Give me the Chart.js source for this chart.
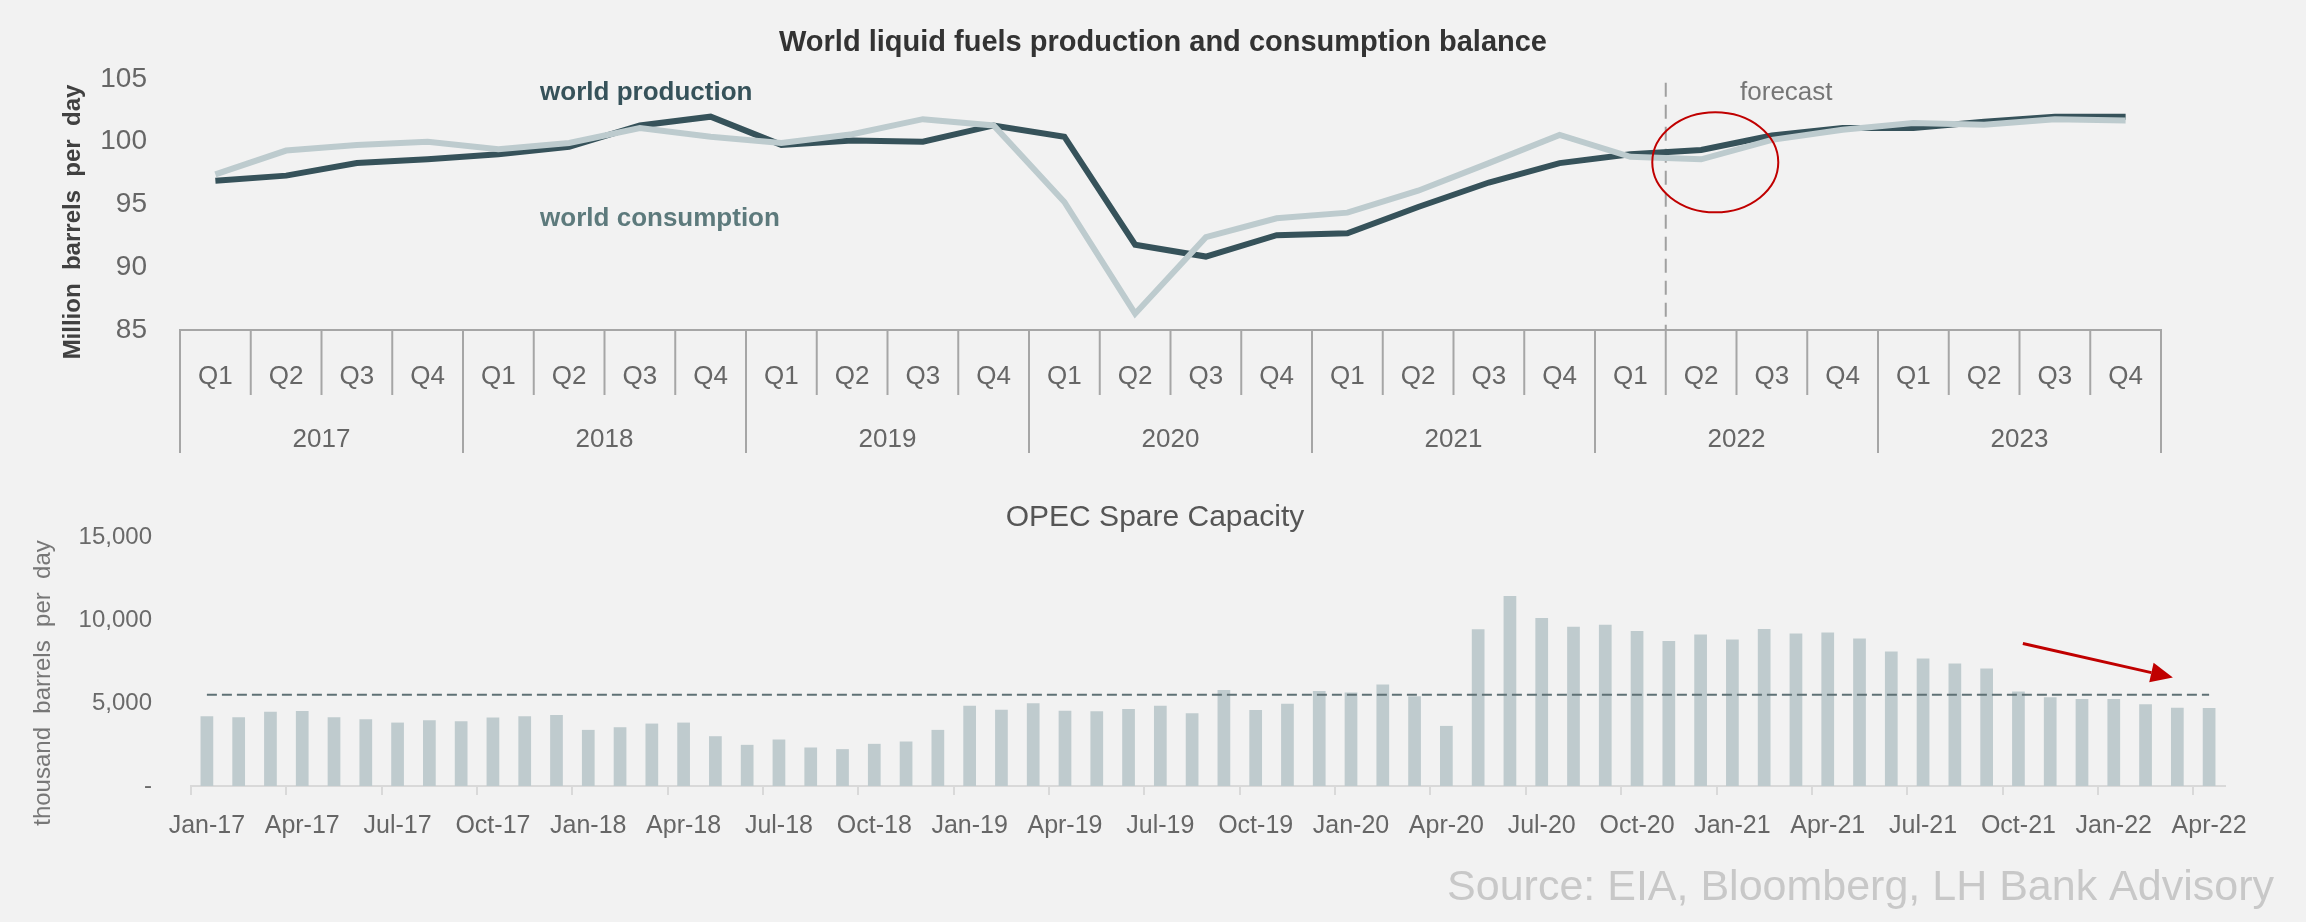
<!DOCTYPE html>
<html>
<head>
<meta charset="utf-8">
<title>World liquid fuels balance and OPEC spare capacity</title>
<script src="https://cdn.jsdelivr.net/npm/chart.js@4.4.1/dist/chart.umd.min.js"></script>
<style>
  html, body { margin: 0; padding: 0; background: #f2f2f2; }
  #top { position: absolute; left: 0; top: 0; width: 2306px; height: 470px; }
  #bottom { position: absolute; left: 0; top: 470px; width: 2306px; height: 452px; }
</style>
</head>
<body>
<div id="top"><canvas id="balance"></canvas></div>
<div id="bottom"><canvas id="spare"></canvas></div>
<script>
const FONT = "'Liberation Sans', Arial, sans-serif";

// quarterly balance, million barrels per day
const quarters = [
  'Q1', 'Q2', 'Q3', 'Q4', 'Q1', 'Q2', 'Q3', 'Q4', 'Q1', 'Q2', 'Q3', 'Q4', 'Q1', 'Q2',
  'Q3', 'Q4', 'Q1', 'Q2', 'Q3', 'Q4', 'Q1', 'Q2', 'Q3', 'Q4', 'Q1', 'Q2', 'Q3', 'Q4'
];
const years = ['2017', '2018', '2019', '2020', '2021', '2022', '2023'];
const production = [
  96.9, 97.3, 98.3, 98.6, 99.0, 99.6, 101.3, 102.0, 99.75, 100.1, 100.0, 101.3, 100.4, 91.8,
  90.85, 92.55, 92.7, 94.8, 96.75, 98.3, 99.0, 99.35, 100.5, 101.1, 101.1, 101.6, 102.0, 102.0
];
const consumption = [
  97.4, 99.3, 99.75, 100.0, 99.4, 99.9, 101.1, 100.4, 99.9, 100.6, 101.8, 101.3, 95.2, 86.3,
  92.4, 93.9, 94.35, 96.1, 98.3, 100.55, 98.8, 98.6, 100.15, 100.95, 101.5, 101.35, 101.8, 101.7
];
const balanceTicks = [85, 90, 95, 100, 105];
const forecastFrom = 21; // first forecast quarter (2022 Q2)

// monthly OPEC spare capacity, thousand barrels per day
const months = [
  'Jan-17', 'Feb-17', 'Mar-17', 'Apr-17', 'May-17', 'Jun-17', 'Jul-17', 'Aug-17', 'Sep-17', 'Oct-17', 'Nov-17', 'Dec-17',
  'Jan-18', 'Feb-18', 'Mar-18', 'Apr-18', 'May-18', 'Jun-18', 'Jul-18', 'Aug-18', 'Sep-18', 'Oct-18', 'Nov-18', 'Dec-18',
  'Jan-19', 'Feb-19', 'Mar-19', 'Apr-19', 'May-19', 'Jun-19', 'Jul-19', 'Aug-19', 'Sep-19', 'Oct-19', 'Nov-19', 'Dec-19',
  'Jan-20', 'Feb-20', 'Mar-20', 'Apr-20', 'May-20', 'Jun-20', 'Jul-20', 'Aug-20', 'Sep-20', 'Oct-20', 'Nov-20', 'Dec-20',
  'Jan-21', 'Feb-21', 'Mar-21', 'Apr-21', 'May-21', 'Jun-21', 'Jul-21', 'Aug-21', 'Sep-21', 'Oct-21', 'Nov-21', 'Dec-21',
  'Jan-22', 'Feb-22', 'Mar-22', 'Apr-22'
];
const spareCapacity = [
  4200, 4140, 4480, 4520, 4140, 4020, 3820, 3960, 3900, 4120, 4200, 4280,
  3380, 3540, 3760, 3820, 3000, 2480, 2800, 2320, 2220, 2540, 2680, 3380,
  4840, 4600, 4980, 4540, 4500, 4640, 4840, 4380, 5780, 4580, 4960, 5720,
  5640, 6120, 5400, 3620, 9440, 11440, 10120, 9600, 9720, 9340, 8740, 9120,
  8820, 9460, 9180, 9240, 8880, 8100, 7680, 7380, 7080, 5700, 5340, 5240,
  5240, 4920, 4720, 4700
];
const spareAverage = 5500;
const spareTicks = [0, 5000, 10000, 15000];

// extra drawing on the balance chart: titles, two-level axis, forecast marker
const balanceDecor = {
  id: 'balanceDecor',
  beforeDatasetsDraw(chart) {
    const { ctx, chartArea, scales: { x, y } } = chart;
    const half = (x.getPixelForValue(1) - x.getPixelForValue(0)) / 2;
    const fx = x.getPixelForValue(forecastFrom) - half;
    ctx.save();
    ctx.strokeStyle = '#a0a0a0';
    ctx.lineWidth = 2;
    ctx.setLineDash([14, 8]);
    ctx.beginPath();
    ctx.moveTo(fx, y.getPixelForValue(104.7));
    ctx.lineTo(fx, chartArea.bottom);
    ctx.stroke();
    ctx.restore();
  },
  afterDraw(chart) {
    const { ctx, chartArea, scales: { x, y } } = chart;
    const half = (x.getPixelForValue(1) - x.getPixelForValue(0)) / 2;
    ctx.save();

    // category separators: short for quarters, long at year breaks
    ctx.strokeStyle = '#a6a6a6';
    ctx.lineWidth = 2;
    for (let i = 0; i <= quarters.length; i++) {
      const px = i < quarters.length ? x.getPixelForValue(i) - half : x.getPixelForValue(i - 1) + half;
      ctx.beginPath();
      ctx.moveTo(px, chartArea.bottom);
      ctx.lineTo(px, chartArea.bottom + (i % 4 === 0 ? 123 : 65));
      ctx.stroke();
    }
    ctx.fillStyle = '#666';
    ctx.font = '26px ' + FONT;
    ctx.textAlign = 'center';
    ctx.textBaseline = 'middle';
    years.forEach((yr, k) => {
      const cx = (x.getPixelForValue(k * 4) + x.getPixelForValue(k * 4 + 3)) / 2;
      ctx.fillText(yr, cx, chartArea.bottom + 110);
    });

    // chart title
    ctx.fillStyle = '#333';
    ctx.font = 'bold 29px ' + FONT;
    ctx.fillText('World liquid fuels production and consumption balance', 1163, 43);

    // y axis title
    ctx.save();
    ctx.translate(73, 222);
    ctx.rotate(-Math.PI / 2);
    ctx.fillStyle = '#404040';
    ctx.font = 'bold 24px ' + FONT;
    ctx.fillText('Million  barrels  per  day', 0, 0);
    ctx.restore();

    // series labels
    ctx.textAlign = 'left';
    ctx.font = 'bold 26px ' + FONT;
    ctx.fillStyle = '#36525a';
    ctx.fillText('world production', x.getPixelForValue(4.59), y.getPixelForValue(103.9));
    ctx.fillStyle = '#5d7a7c';
    ctx.fillText('world consumption', x.getPixelForValue(4.59), y.getPixelForValue(93.85));

    // forecast label and highlight ring
    ctx.fillStyle = '#767676';
    ctx.font = '26px ' + FONT;
    ctx.fillText('forecast', x.getPixelForValue(21.55), y.getPixelForValue(103.9));
    ctx.strokeStyle = '#c00000';
    ctx.lineWidth = 2;
    ctx.beginPath();
    ctx.ellipse(x.getPixelForValue(21.2), y.getPixelForValue(98.36), 63, 50, 0, 0, Math.PI * 2);
    ctx.stroke();
    ctx.restore();
  }
};

new Chart(document.getElementById('balance'), {
  type: 'line',
  data: {
    labels: quarters,
    datasets: [
      {
        label: 'world consumption',
        data: consumption,
        borderColor: '#bdcbce',
        borderWidth: 6,
        pointRadius: 0,
        tension: 0,
        order: 0
      },
      {
        label: 'world production',
        data: production,
        borderColor: '#36525a',
        borderWidth: 6,
        pointRadius: 0,
        tension: 0,
        order: 1
      }
    ]
  },
  plugins: [balanceDecor],
  options: {
    responsive: true,
    maintainAspectRatio: false,
    devicePixelRatio: 1,
    animation: false,
    layout: { autoPadding: false, padding: { top: 79, right: 145, left: 0, bottom: 0 } },
    plugins: { legend: { display: false }, title: { display: false }, tooltip: { enabled: false } },
    scales: {
      x: {
        offset: true,
        grid: { display: false },
        border: { display: true, color: '#a6a6a6', width: 2 },
        ticks: { color: '#666', font: { family: FONT, size: 26 }, padding: 23, maxRotation: 0, autoSkip: false },
        afterFit(scale) { scale.height = 140; }
      },
      y: {
        min: 85,
        max: 105,
        grid: { display: false, drawTicks: false },
        border: { display: false },
        ticks: { color: '#666', font: { family: FONT, size: 28 }, padding: 33 },
        afterBuildTicks(scale) { scale.ticks = balanceTicks.map(v => ({ value: v })); },
        afterFit(scale) { scale.width = 180; }
      }
    }
  }
});

// extra drawing on the spare capacity chart: titles, trend arrow, source
const spareDecor = {
  id: 'spareDecor',
  afterDraw(chart) {
    const { ctx, scales: { x, y } } = chart;
    ctx.save();
    ctx.textAlign = 'center';
    ctx.textBaseline = 'middle';
    ctx.fillStyle = '#555';
    ctx.font = '30px ' + FONT;
    ctx.fillText('OPEC Spare Capacity', 1155, 48);

    ctx.save();
    ctx.translate(43, 213);
    ctx.rotate(-Math.PI / 2);
    ctx.fillStyle = '#777';
    ctx.font = '24px ' + FONT;
    ctx.fillText('thousand  barrels  per  day', 0, 0);
    ctx.restore();

    // downward trend arrow
    const x0 = x.getPixelForValue(57.14), y0 = y.getPixelForValue(8580);
    const x1 = x.getPixelForValue(61.86), y1 = y.getPixelForValue(6540);
    const ang = Math.atan2(y1 - y0, x1 - x0);
    const head = 22, wing = 10;
    ctx.strokeStyle = '#c00000';
    ctx.fillStyle = '#c00000';
    ctx.lineWidth = 3;
    ctx.beginPath();
    ctx.moveTo(x0, y0);
    ctx.lineTo(x1 - Math.cos(ang) * head, y1 - Math.sin(ang) * head);
    ctx.stroke();
    ctx.beginPath();
    ctx.moveTo(x1, y1);
    ctx.lineTo(x1 - Math.cos(ang) * head - Math.sin(ang) * wing, y1 - Math.sin(ang) * head + Math.cos(ang) * wing);
    ctx.lineTo(x1 - Math.cos(ang) * head + Math.sin(ang) * wing, y1 - Math.sin(ang) * head - Math.cos(ang) * wing);
    ctx.closePath();
    ctx.fill();

    ctx.textAlign = 'right';
    ctx.fillStyle = '#c8c8c8';
    ctx.font = '43px ' + FONT;
    ctx.fillText('Source: EIA, Bloomberg, LH Bank Advisory', 2274, 418);
    ctx.restore();
  }
};

new Chart(document.getElementById('spare'), {
  type: 'bar',
  data: {
    labels: months,
    datasets: [
      {
        type: 'line',
        label: 'average',
        data: months.map(() => spareAverage),
        borderColor: '#5f7175',
        borderWidth: 2,
        borderDash: [10, 5],
        pointRadius: 0,
        order: 0
      },
      {
        label: 'OPEC spare capacity',
        data: spareCapacity,
        backgroundColor: '#bfcbce',
        categoryPercentage: 1,
        barPercentage: 0.4,
        order: 1
      }
    ]
  },
  plugins: [spareDecor],
  options: {
    responsive: true,
    maintainAspectRatio: false,
    devicePixelRatio: 1,
    animation: false,
    layout: { autoPadding: false, padding: { top: 67, right: 81, left: 0, bottom: 0 } },
    plugins: { legend: { display: false }, title: { display: false }, tooltip: { enabled: false } },
    scales: {
      x: {
        offset: true,
        grid: {
          offset: true,
          drawOnChartArea: false,
          drawTicks: true,
          tickLength: 9,
          lineWidth: 2,
          color: c => (c.index % 3 === 0 && c.index < months.length ? '#d9d9d9' : 'rgba(0,0,0,0)')
        },
        border: { display: true, color: '#d9d9d9', width: 2 },
        ticks: {
          color: '#666',
          font: { family: FONT, size: 25 },
          padding: 16,
          maxRotation: 0,
          autoSkip: false,
          callback: (v, i) => (i % 3 === 0 ? months[i] : '')
        },
        afterFit(scale) { scale.height = 136; }
      },
      y: {
        min: 0,
        max: 15000,
        grid: { display: false, drawTicks: false },
        border: { display: false },
        ticks: {
          color: '#6a6a6a',
          font: { family: FONT, size: 24 },
          padding: 39,
          callback: v => (v === 0 ? '-' : v.toLocaleString('en-US'))
        },
        afterBuildTicks(scale) { scale.ticks = spareTicks.map(v => ({ value: v })); },
        afterFit(scale) { scale.width = 191; }
      }
    }
  }
});
</script>
</body>
</html>
